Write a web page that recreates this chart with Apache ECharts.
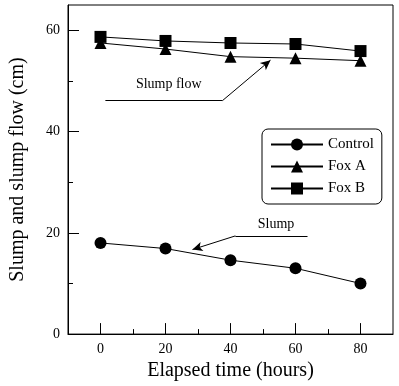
<!DOCTYPE html>
<html>
<head>
<meta charset="utf-8">
<script src="https://cdn.jsdelivr.net/npm/echarts@6/dist/echarts.min.js"></script>
<style>
  html, body { margin: 0; padding: 0; background: #fff; }
  #chart { width: 399px; height: 386px; }
</style>
</head>
<body>
<div id="chart"></div>
<script>
// elapsed time (hours)
const hours = [0, 20, 40, 60, 80];
const control = [18.0, 16.9, 14.6, 13.0, 10.0];
const foxA = [57.5, 56.3, 54.8, 54.5, 54.0];
const foxB = [58.7, 57.9, 57.5, 57.3, 55.9];

const xMajor = [0, 20, 40, 60, 80];
const xMinor = [10, 30, 50, 70];
const yMajor = [0, 20, 40, 60];
const yMinor = [10, 30, 50];

// annotation paths in data units
const flowPath = [[1.5, 46.1], [37.5, 46.1], [52.3, 54.1]];
const flowLabel = [21, 49.4];
const slumpPath = [[63.7, 19.4], [41.5, 19.4], [28.3, 16.7]];
const slumpLabel = [54, 21.7];

const font = "'Liberation Serif', 'DejaVu Serif', serif";
const chart = echarts.init(document.getElementById("chart"));

const pts = (xs, ys) => xs.map((x, i) => [x, ys[i]]);

function pathLines(path) {
  const segs = [];
  for (let i = 0; i < path.length - 1; i++) {
    const last = i === path.length - 2;
    segs.push([
      { coord: path[i], symbol: "none" },
      { coord: path[i + 1], symbol: last ? "arrow" : "none", symbolSize: last ? [7, 10] : 0 }
    ]);
  }
  return segs;
}

const lineSeries = (name, data, symbol) => ({
  name,
  type: "line",
  data,
  symbol,
  symbolSize: 12,
  showAllSymbol: true,
  lineStyle: { color: "#000", width: 1 },
  itemStyle: { color: "#000" },
  z: 3
});

chart.setOption({
  backgroundColor: "#fff",
  animation: false,
  textStyle: { fontFamily: font },
  grid: {
    left: 68, right: 6, top: 5, bottom: 49,
    show: true, borderColor: "#000", borderWidth: 1, backgroundColor: "transparent"
  },
  legend: {
    orient: "vertical",
    left: 262,
    top: 129,
    padding: [8, 8, 8, 8],
    itemWidth: 52,
    itemHeight: 15,
    itemGap: 7,
    borderColor: "#000",
    borderWidth: 1,
    borderRadius: 6,
    data: ["Control", "Fox A", "Fox B"],
    textStyle: { fontFamily: font, fontSize: 15, color: "#000" }
  },
  xAxis: [
    {
      type: "value",
      min: -10, max: 90,
      name: "Elapsed time (hours)",
      nameLocation: "middle",
      nameGap: 26,
      nameTextStyle: { fontFamily: font, fontSize: 20, color: "#000" },
      axisLine: { onZero: false, lineStyle: { color: "#000" } },
      axisTick: { inside: true, length: 11, customValues: xMajor, lineStyle: { color: "#000" } },
      axisLabel: { customValues: xMajor, color: "#000", fontSize: 14, margin: 8, fontFamily: font },
      splitLine: { show: false }
    },
    {
      type: "value",
      min: -10, max: 90,
      position: "bottom",
      axisLine: { show: false, onZero: false },
      axisTick: { inside: true, length: 5, customValues: xMinor, lineStyle: { color: "#000" } },
      axisLabel: { show: false },
      splitLine: { show: false }
    }
  ],
  yAxis: [
    {
      type: "value",
      min: 0, max: 65,
      name: "Slump and slump flow (cm)",
      nameLocation: "middle",
      nameGap: 40,
      nameTextStyle: { fontFamily: font, fontSize: 20, color: "#000" },
      axisLine: { onZero: false, lineStyle: { color: "#000" } },
      axisTick: { inside: true, length: 11, customValues: yMajor, lineStyle: { color: "#000" } },
      axisLabel: { customValues: yMajor, color: "#000", fontSize: 14, margin: 8, fontFamily: font },
      splitLine: { show: false }
    },
    {
      type: "value",
      min: 0, max: 65,
      position: "left",
      axisLine: { show: false, onZero: false },
      axisTick: { inside: true, length: 5, customValues: yMinor, lineStyle: { color: "#000" } },
      axisLabel: { show: false },
      splitLine: { show: false }
    }
  ],
  series: [
    lineSeries("Control", pts(hours, control), "circle"),
    lineSeries("Fox A", pts(hours, foxA), "triangle"),
    lineSeries("Fox B", pts(hours, foxB), "rect"),
    {
      name: "notes",
      type: "line",
      data: [],
      silent: true,
      markLine: {
        silent: true,
        animation: false,
        label: { show: false },
        lineStyle: { color: "#000", width: 1, type: "solid" },
        data: pathLines(flowPath).concat(pathLines(slumpPath))
      },
      markPoint: {
        silent: true,
        symbol: "circle",
        symbolSize: 0,
        label: { show: true, position: "inside", color: "#000", fontFamily: font, fontSize: 14 },
        data: [
          { coord: flowLabel, value: "Slump flow", label: { formatter: "Slump flow" } },
          { coord: slumpLabel, value: "Slump", label: { formatter: "Slump" } }
        ]
      }
    }
  ]
});
</script>
</body>
</html>
